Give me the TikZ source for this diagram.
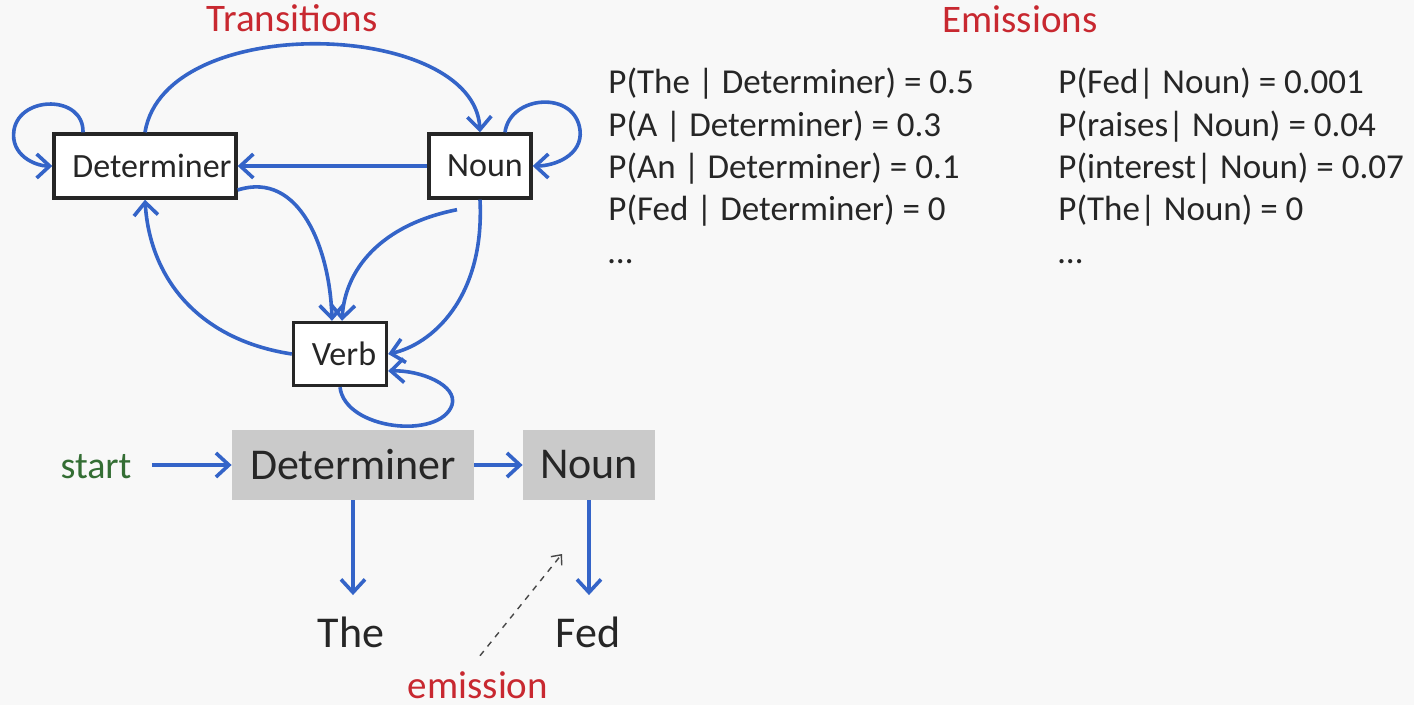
\documentclass[tikz,border=0pt]{standalone}
\usepackage{fontspec}
\setmainfont{Carlito}
\usetikzlibrary{arrows.meta, positioning}
\definecolor{bgc}{RGB}{248,248,248}
\definecolor{arcblue}{RGB}{52,100,200}
\definecolor{titlered}{RGB}{200,40,48}
\definecolor{startgreen}{RGB}{52,110,52}
\definecolor{boxgray}{RGB}{202,202,202}
\definecolor{ink}{RGB}{38,38,38}

\begin{document}
\begin{tikzpicture}[x=0.5pt, y=-0.5pt,
  arr/.style={draw=arcblue, line width=1.8pt, -{Straight Barb[length=6.5pt,width=12pt]}},
  emline/.style={draw=ink!85, line width=0.7pt, dashed, -{Straight Barb[length=4pt,width=7pt]}},
  state/.style={draw=ink, line width=1.7pt, fill=white, text=ink, inner sep=0pt, minimum height=32pt, font=\fontsize{17}{20}\selectfont},
  tag/.style={fill=boxgray, text=ink, inner sep=0pt, minimum height=35pt, font=\fontsize{22}{26}\selectfont},
  word/.style={text=ink, anchor=base, inner ysep=10.5pt, font=\fontsize{22}{26}\selectfont},
  prob/.style={text=ink, anchor=base west, inner sep=0pt, font=\fontsize{17.5}{21}\selectfont},
  title/.style={text=titlered, anchor=base, font=\fontsize{19.5}{23}\selectfont}]

  \useasboundingbox (0,0) rectangle (1414,705);
  \fill[bgc] (0,0) rectangle (1414,705);

  % titles
  \node[title] (trans) at (292,32) {Transitions};
  \node[title] (emis) at (1020,33) {Emissions};

  % hidden states
  \node[state, minimum width=91pt] (det) at (145,166) {\hspace*{7pt}Determiner};
  \node[state, minimum width=51pt] (noun) at (480,166) {\hspace*{5pt}Noun};
  \node[state, minimum width=46.5pt, minimum height=31.5pt] (verb) at (340,354) {\hspace*{4pt}Verb};

  % transitions
  \draw[arr] ([xshift=-31pt]det.north) .. controls (84,95) and (20,95) .. (14,130)
    .. controls (10,155) and (35,166) .. (det.west);
  \draw[arr] (det.north) .. controls (165,10) and (475,20) .. (noun.north);
  \draw[arr] ([xshift=12.5pt]noun.north) .. controls (510,95) and (575,90) .. (580,130)
    .. controls (583,155) and (555,166) .. (noun.east);
  \draw[arr] (noun.west) -- (det.east);
  \draw[arr] ([yshift=-12pt]det.east) .. controls (300,170) and (330,250) .. ([xshift=-4pt]verb.north);
  \coordinate (nv) at ([xshift=-11.5pt,yshift=-5pt]noun.south);
  \draw[arr] (nv) .. controls (380,225) and (345,270) .. ([xshift=1pt]verb.north);
  \draw[arr] (noun.south) .. controls (485,300) and (430,345) .. (verb.east);
  \draw[arr] (verb.west) .. controls (200,340) and (150,280) .. (det.south);
  \draw[arr] (verb.south) .. controls (345,430) and (440,440) .. (452,405)
    .. controls (458,385) and (420,370) .. ([yshift=-8.5pt]verb.east);

  % tagged sequence
  \node[tag, minimum width=121pt] (gdet) at (353,465) {Determiner};
  \node[tag, minimum width=66pt] (gnoun) at (589,465) {Noun};
  \node[text=startgreen, anchor=base, inner xsep=10pt, font=\fontsize{19}{23}\selectfont] (start) at (96,479) {start};
  \node[word] (the) at (351,647) {The};
  \node[word] (fed) at (588,647) {Fed};
  \node[text=titlered, anchor=base, inner sep=0.5pt, font=\fontsize{19.5}{23}\selectfont] (emission) at (478,698) {emission};

  \draw[arr] (start.east |- gdet.west) -- (gdet.west);
  \draw[arr] (gdet.east) -- (gnoun.west);
  \draw[arr] (gdet.south) -- (gdet.south |- the.north);
  \draw[arr] (gnoun.south) -- (gnoun.south |- fed.north);
  \coordinate (emtip) at (562,554);
  \draw[emline] ([xshift=1pt,yshift=7pt]emission.north) -- (emtip);

  % emission probabilities
  \foreach \i/\txt in {1/{P(The | Determiner) = 0.5}, 2/{P(A | Determiner) = 0.3},
      3/{P(An | Determiner) = 0.1}, 4/{P(Fed | Determiner) = 0}, 5/{…}}
    \node[prob] (pd\i) at (608,{94+(\i-1)*42.3}) {\txt};
  \foreach \i/\txt in {1/{P(Fed| Noun) = 0.001}, 2/{P(raises| Noun) = 0.04},
      3/{P(interest| Noun) = 0.07}, 4/{P(The| Noun) = 0}, 5/{…}}
    \node[prob] (pn\i) at (1058,{94+(\i-1)*42.3}) {\txt};
\end{tikzpicture}
\end{document}
